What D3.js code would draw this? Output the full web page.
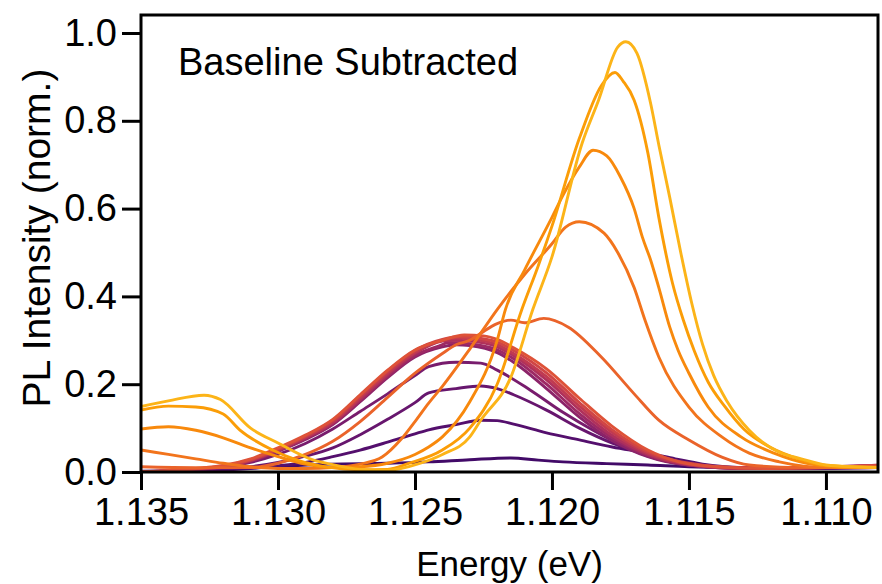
<!DOCTYPE html>
<html>
<head>
<meta charset="utf-8">
<script src="https://cdnjs.cloudflare.com/ajax/libs/d3/7.8.5/d3.min.js"></script>
<style>
  body { margin: 0; background: #fff; }
  text { font-family: "Liberation Sans", Arial, Helvetica, sans-serif; fill: #000; }
</style>
</head>
<body>
<svg id="chart" width="882" height="584"></svg>
<script>
// ---- data: [energy (eV), PL intensity (norm.)], earliest (dark) to latest (yellow)
var s00 = [[1.135,0.002],[1.133,0.004],[1.1306,0.01],[1.1281,0.018],[1.126,0.02],[1.1245,0.023],[1.123,0.028],[1.1215,0.032],[1.1205,0.027],[1.1196,0.023],[1.118,0.019],[1.1165,0.016],[1.115,0.012],[1.113,0.01],[1.111,0.01],[1.108,0.01]];
var s01 = [[1.135,0.0],[1.133,0.003],[1.131,0.008],[1.130,0.014],[1.129,0.022],[1.128,0.035],[1.127,0.05],[1.126,0.068],[1.125,0.087],[1.1245,0.096],[1.1235,0.108],[1.1226,0.118],[1.122,0.117],[1.1214,0.109],[1.1202,0.089],[1.119,0.073],[1.1178,0.057],[1.1165,0.043],[1.1155,0.03],[1.1145,0.018],[1.113,0.01],[1.111,0.008],[1.108,0.01]];
var s02 = [[1.135,0.0],[1.133,0.004],[1.131,0.012],[1.130,0.022],[1.129,0.036],[1.128,0.055],[1.127,0.085],[1.126,0.12],[1.125,0.158],[1.1245,0.18],[1.1235,0.19],[1.1226,0.196],[1.122,0.19],[1.1214,0.176],[1.1202,0.141],[1.119,0.10],[1.1178,0.066],[1.1165,0.04],[1.115,0.02],[1.1135,0.01],[1.111,0.008],[1.108,0.01]];
var s03 = [[1.135,0.0],[1.133,0.005],[1.132,0.01],[1.131,0.022],[1.130,0.04],[1.129,0.065],[1.128,0.098],[1.127,0.138],[1.126,0.178],[1.125,0.22],[1.1245,0.24],[1.1235,0.25],[1.1226,0.248],[1.122,0.232],[1.1208,0.187],[1.1196,0.136],[1.1185,0.095],[1.1175,0.062],[1.1165,0.036],[1.115,0.016],[1.113,0.008],[1.111,0.008],[1.108,0.012]];
var s04 = [[1.135,0.0],[1.133,0.005],[1.132,0.011],[1.131,0.024],[1.130,0.047],[1.129,0.074],[1.128,0.108],[1.127,0.16],[1.126,0.215],[1.125,0.262],[1.124,0.285],[1.1235,0.29],[1.123,0.288],[1.122,0.272],[1.1214,0.25],[1.1202,0.19],[1.119,0.125],[1.1178,0.072],[1.1165,0.035],[1.115,0.015],[1.113,0.008],[1.111,0.01],[1.108,0.014]];
var s05 = [[1.135,0.0],[1.133,0.006],[1.132,0.012],[1.131,0.025],[1.130,0.048],[1.129,0.076],[1.128,0.11],[1.127,0.163],[1.126,0.218],[1.125,0.265],[1.124,0.29],[1.1238,0.295],[1.123,0.292],[1.122,0.278],[1.1214,0.258],[1.1202,0.20],[1.119,0.133],[1.1178,0.078],[1.1165,0.038],[1.115,0.016],[1.113,0.008],[1.111,0.01],[1.108,0.015]];
var s06 = [[1.135,0.0],[1.133,0.006],[1.132,0.012],[1.131,0.026],[1.130,0.05],[1.129,0.078],[1.128,0.112],[1.127,0.166],[1.126,0.222],[1.125,0.27],[1.124,0.298],[1.1236,0.30],[1.123,0.298],[1.122,0.285],[1.1214,0.265],[1.1202,0.21],[1.119,0.142],[1.1178,0.083],[1.1165,0.04],[1.115,0.017],[1.113,0.008],[1.111,0.01],[1.108,0.016]];
var s07 = [[1.135,0.0],[1.133,0.007],[1.132,0.013],[1.131,0.027],[1.130,0.051],[1.129,0.08],[1.128,0.115],[1.127,0.17],[1.126,0.226],[1.125,0.273],[1.124,0.30],[1.1235,0.305],[1.123,0.303],[1.122,0.29],[1.1214,0.27],[1.1202,0.217],[1.119,0.15],[1.1178,0.09],[1.1165,0.043],[1.115,0.018],[1.113,0.009],[1.111,0.01],[1.108,0.016]];
var s08 = [[1.135,0.0],[1.133,0.007],[1.132,0.014],[1.131,0.028],[1.130,0.053],[1.129,0.082],[1.128,0.118],[1.127,0.174],[1.126,0.23],[1.125,0.277],[1.124,0.302],[1.1234,0.308],[1.123,0.307],[1.122,0.296],[1.1214,0.277],[1.1202,0.226],[1.119,0.158],[1.1178,0.096],[1.1165,0.046],[1.115,0.02],[1.113,0.01],[1.111,0.01],[1.108,0.015]];
var s09 = [[1.135,0.0],[1.133,0.008],[1.132,0.015],[1.131,0.03],[1.130,0.055],[1.129,0.084],[1.128,0.12],[1.127,0.176],[1.126,0.232],[1.125,0.278],[1.124,0.30],[1.1232,0.312],[1.1225,0.31],[1.122,0.302],[1.1214,0.283],[1.1202,0.235],[1.119,0.168],[1.1178,0.104],[1.1165,0.05],[1.1153,0.022],[1.114,0.012],[1.112,0.008],[1.110,0.01],[1.108,0.014]];
var s10 = [[1.135,0.012],[1.133,0.01],[1.131,0.01],[1.130,0.02],[1.129,0.04],[1.128,0.07],[1.127,0.115],[1.126,0.17],[1.125,0.225],[1.124,0.27],[1.1235,0.29],[1.123,0.30],[1.1226,0.316],[1.122,0.338],[1.1215,0.346],[1.121,0.34],[1.1203,0.35],[1.1194,0.33],[1.1182,0.262],[1.117,0.178],[1.1161,0.118],[1.115,0.073],[1.1138,0.034],[1.1128,0.016],[1.111,0.01],[1.108,0.01]];
var s11 = [[1.135,0.05],[1.134,0.04],[1.133,0.03],[1.132,0.02],[1.131,0.012],[1.130,0.008],[1.129,0.008],[1.128,0.01],[1.127,0.018],[1.1262,0.034],[1.1255,0.075],[1.125,0.115],[1.1245,0.157],[1.124,0.195],[1.123,0.28],[1.122,0.37],[1.121,0.45],[1.120,0.52],[1.1195,0.558],[1.119,0.57],[1.1181,0.544],[1.1176,0.50],[1.117,0.42],[1.1166,0.345],[1.1161,0.262],[1.115,0.148],[1.1138,0.08],[1.1128,0.043],[1.1117,0.023],[1.110,0.01],[1.108,0.01]];
var s12 = [[1.135,0.098],[1.134,0.103],[1.133,0.095],[1.132,0.078],[1.131,0.055],[1.130,0.035],[1.129,0.018],[1.128,0.01],[1.127,0.012],[1.126,0.02],[1.125,0.04],[1.1245,0.057],[1.124,0.08],[1.123,0.16],[1.122,0.30],[1.1217,0.37],[1.121,0.46],[1.120,0.58],[1.1196,0.63],[1.119,0.695],[1.1185,0.733],[1.118,0.72],[1.1175,0.672],[1.117,0.60],[1.1167,0.535],[1.1164,0.483],[1.1161,0.42],[1.1157,0.33],[1.1154,0.278],[1.115,0.225],[1.1143,0.148],[1.1131,0.08],[1.1119,0.043],[1.1107,0.02],[1.109,0.01],[1.108,0.01]];
var s13 = [[1.135,0.141],[1.134,0.15],[1.133,0.148],[1.132,0.132],[1.1314,0.096],[1.1302,0.05],[1.1293,0.027],[1.1282,0.011],[1.127,0.005],[1.126,0.006],[1.1252,0.02],[1.124,0.05],[1.123,0.10],[1.122,0.20],[1.1211,0.37],[1.1205,0.47],[1.120,0.56],[1.119,0.76],[1.1182,0.88],[1.1177,0.91],[1.1174,0.89],[1.117,0.847],[1.1165,0.727],[1.1161,0.58],[1.1156,0.43],[1.1152,0.345],[1.1148,0.275],[1.1143,0.205],[1.1137,0.15],[1.113,0.098],[1.112,0.055],[1.111,0.03],[1.110,0.015],[1.108,0.01]];
var s14 = [[1.135,0.149],[1.134,0.162],[1.1327,0.175],[1.1321,0.165],[1.131,0.10],[1.130,0.066],[1.1287,0.027],[1.1281,0.018],[1.127,0.006],[1.126,0.004],[1.1248,0.02],[1.124,0.04],[1.123,0.08],[1.1226,0.118],[1.1215,0.216],[1.1207,0.37],[1.120,0.49],[1.1189,0.749],[1.1183,0.847],[1.1176,0.968],[1.1173,0.98],[1.1169,0.954],[1.1164,0.84],[1.1161,0.745],[1.1157,0.625],[1.1153,0.5],[1.1149,0.385],[1.1145,0.29],[1.1141,0.22],[1.1136,0.16],[1.1128,0.095],[1.1117,0.045],[1.1109,0.03],[1.110,0.016],[1.108,0.01]];

var spectra = [s00, s01, s02, s03, s04, s05, s06, s07, s08, s09, s10, s11, s12, s13, s14];

var xTicks = [1.135, 1.130, 1.125, 1.120, 1.115, 1.110];
var yTicks = [0.0, 0.2, 0.4, 0.6, 0.8, 1.0];
var xDomain = [1.135, 1.1081];
var yDomain = [0, 1.041];

// ---- layout
var svg = d3.select("#chart");
var plotL = 141, plotR = 878, plotT = 15, plotB = 472;

var x = d3.scaleLinear().domain(xDomain).range([plotL, plotR]);
var y = d3.scaleLinear().domain(yDomain).range([plotB, plotT]);

// inferno, dark purple (0.2) -> yellow (~0.83)
var color = d3.scaleSequential(d3.interpolateInferno).domain([-4.44, 17.78]);

svg.append("clipPath").attr("id", "plotclip")
    .append("rect").attr("x", plotL).attr("y", plotT)
    .attr("width", plotR - plotL).attr("height", plotB - plotT);

var line = d3.line()
    .x(function(d) { return x(d[0]); })
    .y(function(d) { return y(d[1]); })
    .curve(d3.curveMonotoneX);

svg.append("g").attr("clip-path", "url(#plotclip)")
    .selectAll("path").data(spectra).enter()
    .append("path")
    .attr("d", line)
    .attr("fill", "none")
    .attr("stroke", function(d, i) { return color(i); })
    .attr("stroke-width", 2.9)
    .attr("stroke-linejoin", "round");

// axes
var xAxis = d3.axisBottom(x).tickValues(xTicks).tickFormat(d3.format(".3f"))
    .tickSize(18).tickPadding(8);
var yAxis = d3.axisLeft(y).tickValues(yTicks).tickFormat(d3.format(".1f"))
    .tickSize(19).tickPadding(5);

var gx = svg.append("g").attr("transform", "translate(0," + plotB + ")").call(xAxis);
var gy = svg.append("g").attr("transform", "translate(" + plotL + ",0)").call(yAxis);

[gx, gy].forEach(function(g) {
    g.select(".domain").remove();
    g.selectAll(".tick line").attr("stroke", "#000").attr("stroke-width", 3);
    g.selectAll(".tick text").attr("font-size", 38).attr("fill", "#000")
        .style("font-family", "'Liberation Sans', Arial, sans-serif");
});

// frame
svg.append("rect")
    .attr("x", plotL).attr("y", plotT)
    .attr("width", plotR - plotL).attr("height", plotB - plotT)
    .attr("fill", "none").attr("stroke", "#000").attr("stroke-width", 3);

// labels
svg.append("text")
    .attr("x", (plotL + plotR) / 2).attr("y", 576)
    .attr("text-anchor", "middle").attr("font-size", 35)
    .text("Energy (eV)");

svg.append("text")
    .attr("transform", "translate(50,238) rotate(-90)")
    .attr("text-anchor", "middle").attr("font-size", 39)
    .text("PL Intensity (norm.)");

svg.append("text")
    .attr("x", 178).attr("y", 75)
    .attr("font-size", 38)
    .text("Baseline Subtracted");
</script>
</body>
</html>
